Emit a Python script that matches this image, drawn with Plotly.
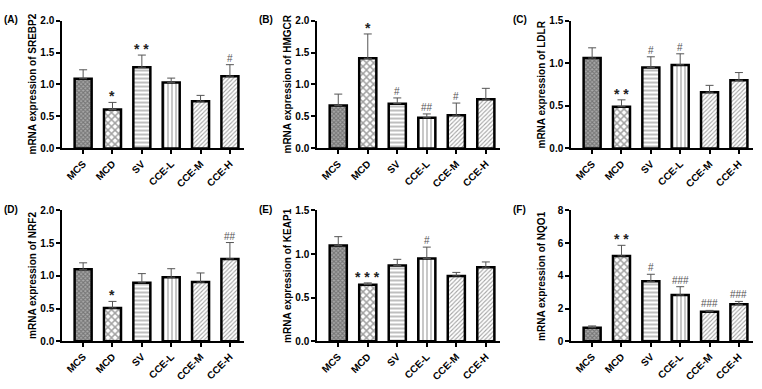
import plotly.graph_objects as go

categories = ["MCS", "MCD", "SV", "CCE-L", "CCE-M", "CCE-H"]

srebp2 = [1.09, 0.61, 1.27, 1.03, 0.74, 1.13]
srebp2_err = [0.14, 0.11, 0.19, 0.07, 0.09, 0.18]
srebp2_sig = ["", "*", "**", "", "", "#"]

hmgcr = [0.67, 1.41, 0.70, 0.48, 0.52, 0.77]
hmgcr_err = [0.18, 0.38, 0.09, 0.06, 0.19, 0.17]
hmgcr_sig = ["", "*", "#", "##", "#", ""]

ldlr = [1.06, 0.49, 0.95, 0.98, 0.66, 0.80]
ldlr_err = [0.12, 0.08, 0.125, 0.13, 0.08, 0.09]
ldlr_sig = ["", "**", "#", "#", "", ""]

nrf2 = [1.10, 0.51, 0.895, 0.98, 0.905, 1.26]
nrf2_err = [0.10, 0.10, 0.14, 0.13, 0.14, 0.25]
nrf2_sig = ["", "*", "", "", "", "##"]

keap1 = [1.10, 0.65, 0.87, 0.95, 0.75, 0.85]
keap1_err = [0.10, 0.02, 0.07, 0.13, 0.04, 0.06]
keap1_sig = ["", "***", "", "#", "", ""]

nqo1 = [0.83, 5.22, 3.67, 2.83, 1.81, 2.26]
nqo1_err = [0.11, 0.65, 0.43, 0.51, 0.08, 0.18]
nqo1_sig = ["", "**", "#", "###", "###", "###"]

panels = [
    ("(A)", "mRNA expression of SREBP2", srebp2, srebp2_err, srebp2_sig, [0, 2.0], 0.5),
    ("(B)", "mRNA expression of HMGCR", hmgcr, hmgcr_err, hmgcr_sig, [0, 2.0], 0.5),
    ("(C)", "mRNA expression of LDLR", ldlr, ldlr_err, ldlr_sig, [0, 1.5], 0.5),
    ("(D)", "mRNA expression of NRF2", nrf2, nrf2_err, nrf2_sig, [0, 2.0], 0.5),
    ("(E)", "mRNA expression of KEAP1", keap1, keap1_err, keap1_sig, [0, 1.5], 0.5),
    ("(F)", "mRNA expression of NQO1", nqo1, nqo1_err, nqo1_sig, [0, 8], 2),
]

W, H = 762, 389
xcols = [(62, 244), (317, 500), (571, 753)]
yrows = [(15, 147), (211, 346)]

pat_shape = ["x", "x", "-", "|", "/", "/"]
pat_size = [3, 5, 4, 4, 3, 3]
pat_sol = [0.6, 0.5, 0.35, 0.3, 0.35, 0.35]
pat_fg = ["#333333", "#000000", "#888888", "#888888", "#777777", "#777777"]
pat_bg = ["#aaaaaa", "white", "white", "white", "white", "white"]

FONT = "Liberation Sans"
fig = go.Figure()

for i, (lab, title, vals, errs, sigs, yr, dt) in enumerate(panels):
    r, c = divmod(i, 3)
    n = i + 1
    xa = "x" if n == 1 else f"x{n}"
    ya = "y" if n == 1 else f"y{n}"
    fig.add_trace(go.Bar(
        x=list(range(len(categories))), y=vals, xaxis=xa, yaxis=ya,
        width=0.58,
        marker=dict(color=pat_bg, line=dict(color="black", width=2.5),
                    pattern=dict(shape=pat_shape, size=pat_size, solidity=pat_sol,
                                 fgcolor=pat_fg, bgcolor=pat_bg, fillmode="overlay")),
        error_y=dict(type="data", array=errs, arrayminus=[0] * len(errs), symmetric=False,
                     color="#555555", thickness=1, width=4),
        showlegend=False, hoverinfo="skip",
    ))
    x0, x1 = xcols[c]
    yt, yb = yrows[r]
    lay_x = dict(domain=[x0 / W, x1 / W], range=[-0.72, 5.48],
                 tickmode="array", tickvals=list(range(len(categories))), ticktext=categories,
                 tickangle=-45, ticks="outside", ticklen=4, tickwidth=1.5, tickcolor="black",
                 showline=True, linecolor="black", linewidth=1.5, showgrid=False, zeroline=False,
                 tickfont=dict(family=FONT, size=10, color="black", weight="bold"),
                 anchor=ya)
    lay_y = dict(domain=[1 - yb / H, 1 - yt / H], range=yr, dtick=dt, tick0=0,
                 tickformat=".1f" if dt < 1 else "d",
                 ticks="outside", ticklen=4, tickwidth=1.5, tickcolor="black",
                 showline=True, linecolor="black", linewidth=1.5, showgrid=False, zeroline=False,
                 tickfont=dict(family=FONT, size=10, color="black", weight="bold"),
                 anchor=xa)
    fig.update_layout(**{("xaxis" if n == 1 else f"xaxis{n}"): lay_x,
                         ("yaxis" if n == 1 else f"yaxis{n}"): lay_y})
    # y-axis title
    fig.add_annotation(x=(x0 - 29) / W, y=1 - ((yt + yb) / 2) / H, xref="paper", yref="paper",
                       text=title, textangle=-90, showarrow=False,
                       xanchor="center", yanchor="middle",
                       font=dict(family=FONT, size=10, color="black", weight="bold"))
    for j, s in enumerate(sigs):
        if s:
            txt = " ".join(s) if "*" in s else s
            fig.add_annotation(x=j, y=vals[j] + errs[j], xref=xa, yref=ya, text=txt,
                               showarrow=False, yanchor="bottom", yshift=-4 if "*" in s else -1,
                               font=dict(family=FONT, size=14 if "*" in s else 10,
                                         color="#222222" if "*" in s else "#555555",
                                         weight="bold" if "*" in s else "normal"))
    fig.add_annotation(x=(x0 - 60) / W, y=1 - (yt - 1) / H, xref="paper", yref="paper",
                       text=lab, showarrow=False, xanchor="left", yanchor="middle",
                       font=dict(family=FONT, size=10, color="black", weight="bold"))

fig.update_layout(width=W, height=H, margin=dict(l=0, r=0, t=0, b=0),
                  paper_bgcolor="white", plot_bgcolor="white", bargap=0.4)
fig.write_html("out.html", post_script="document.body.style.margin='0px';",
               config={"displayModeBar": False})
